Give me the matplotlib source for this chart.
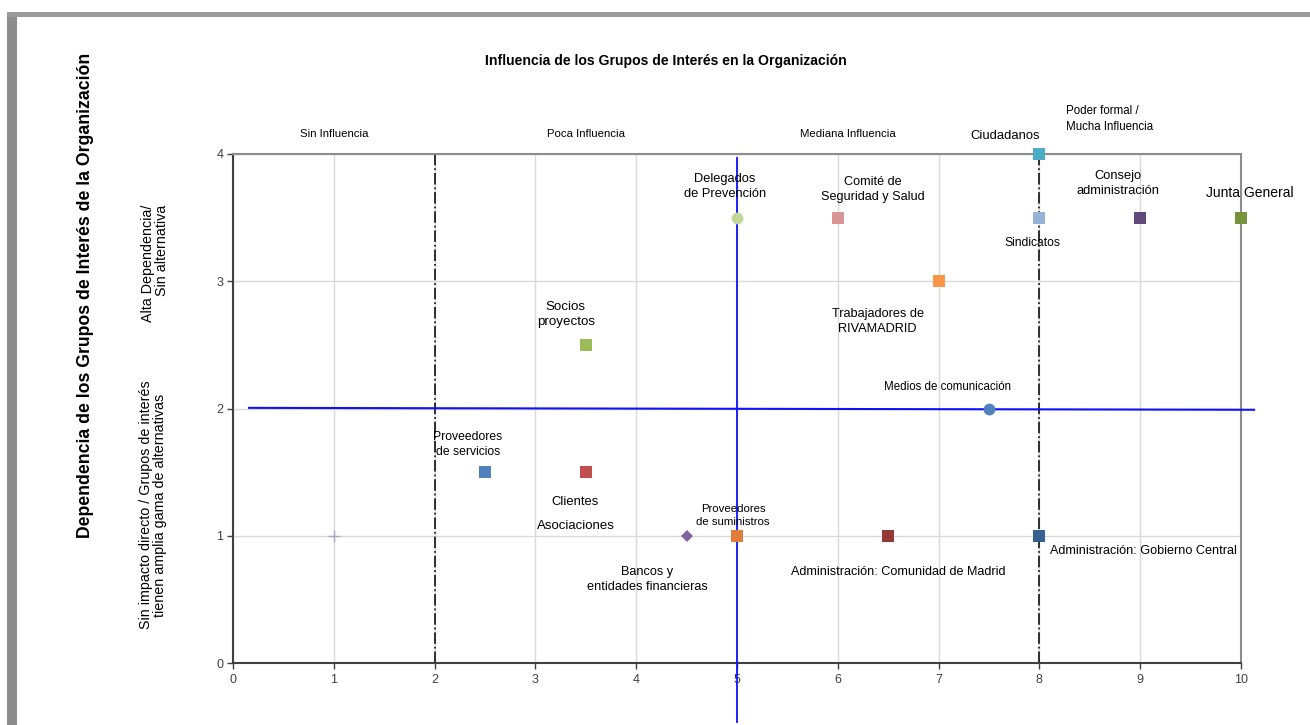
import matplotlib
matplotlib.use("Agg")
import matplotlib.pyplot as plt
from matplotlib.patches import Rectangle

# ---------------- data ----------------
names = ["Delegados de Prevención", "Comité de Seguridad y Salud", "Ciudadanos", "Sindicatos",
         "Consejo administración", "Junta General", "Trabajadores RIVAMADRID", "Socios proyectos",
         "Medios de comunicación", "Proveedores de servicios", "Clientes", "Asociaciones",
         "Proveedores de suministros", "Administración: Comunidad de Madrid",
         "Administración: Gobierno Central", "Bancos y entidades financieras"]
influence = [5, 6, 8, 8, 9, 10, 7, 3.5, 7.5, 2.5, 3.5, 4.5, 5, 6.5, 8, 1]
dependence = [3.5, 3.5, 4, 3.5, 3.5, 3.5, 3, 2.5, 2, 1.5, 1.5, 1, 1, 1, 1, 1]
labels = ["Delegados\nde Prevención", "Comité de\nSeguridad y Salud", "Ciudadanos", "Sindicatos",
          "Consejo\nadministración", "Junta General", "Trabajadores de\nRIVAMADRID", "Socios\nproyectos",
          "Medios de comunicación", "Proveedores\nde servicios", "Clientes", "Asociaciones",
          "Proveedores\nde suministros", "Administración: Comunidad de Madrid",
          "Administración: Gobierno Central", None]
markers = ["o", "s", "s", "s", "s", "s", "s", "s", "o", "s", "s", "D", "s", "s", "s", "+"]
colors = ["#c3d69b", "#d99694", "#4bacc6", "#95b3d7", "#604a7b", "#77933c", "#f79646", "#9bbb59",
          "#4f81bd", "#4f81bd", "#c0504d", "#8064a2", "#e07b39", "#953735", "#376092", "#b3a2c7"]

region_labels = ["Sin Influencia", "Poca Influencia", "Mediana Influencia", "Poder formal /\nMucha Influencia"]
region_x = [1, 3.5, 6.1, 8.26]
x_ticks = [0, 1, 2, 3, 4, 5, 6, 7, 8, 9, 10]
y_ticks = [0, 1, 2, 3, 4]

# label placement (offsets in pixels from the mark) and sizes: styling only
label_offsets = [(-12, 31), (35, 28), (-34, 18), (-7, -25), (-22, 34), (9, 25), (-61, -40), (-20, 30),
                 (-42, 22), (-17, 28), (-11, -30), (-111, 10), (-4, 20), (10, -36), (11, -15), (0, 0)]
label_ha = ["center"] * 14 + ["left", "center"]
label_size = [9.3, 9.1, 9.4, 8.7, 9.3, 10, 9.2, 9.6, 8.3, 8.7, 9.4, 9.5, 8.2, 9.1, 9.1, 9.2]

fam = ["Liberation Sans", "DejaVu Sans"]
plt.rcParams["font.family"] = fam

W, H = 1310, 725
fig = plt.figure(figsize=(W / 100, H / 100), dpi=100)
fig.patch.set_facecolor("white")

# frame shadow (top and left)
fig.add_artist(Rectangle((7 / W, 0), 10 / W, (H - 12) / H, transform=fig.transFigure,
                         facecolor="#8c8c8c", edgecolor="none", zorder=-5))
fig.add_artist(Rectangle((7 / W, (H - 17) / H), (W - 7) / W, 5 / H, transform=fig.transFigure,
                         facecolor="#9a9a9a", edgecolor="none", zorder=-5))
fig.add_artist(Rectangle((17 / W, 0), (W - 17) / W, (H - 17) / H, transform=fig.transFigure,
                         facecolor="white", edgecolor="none", zorder=-4))

ax = fig.add_axes([233 / W, 62 / H, 1008 / W, 509 / H])
ax.set_facecolor("none")
ax.set_xlim(0, 10)
ax.set_ylim(0, 4)
ax.set_xticks(x_ticks)
ax.set_yticks(y_ticks)
ax.grid(True, color="#d9d9d9", linewidth=1, zorder=0)
for s in ["left", "bottom"]:
    ax.spines[s].set_color("#404040")
    ax.spines[s].set_linewidth(1.5)
for s in ["top", "right"]:
    ax.spines[s].set_color("#8c8c8c")
    ax.spines[s].set_linewidth(1.5)
ax.tick_params(axis="both", colors="#404040", labelcolor="#404040", labelsize=9, length=4, width=1)
ax.tick_params(axis="x", pad=4)
ax.tick_params(axis="y", pad=3)

# reference lines
ax.plot([2, 2], [0, 4], color="#202020", linestyle="-.", linewidth=1.3, zorder=2)
ax.plot([8, 8], [0, 4], color="#202020", linestyle="-.", linewidth=1.3, zorder=2)
ax.plot([5, 5], [-0.46, 3.97], color="#1010ff", linewidth=1.3, zorder=3, clip_on=False)
ax.plot([0.16, 10.13], [2.005, 1.99], color="#1010ff", linewidth=1.5, zorder=3, clip_on=False)

# marks
for x, y, m, c in zip(influence, dependence, markers, colors):
    if m == "+":
        ax.plot(x, y, marker=m, color=c, markersize=9, markeredgewidth=1, zorder=5, clip_on=False)
    elif m == "D":
        ax.plot(x, y, marker=m, color=c, markersize=6.5, markeredgewidth=0, zorder=5, clip_on=False)
    elif m == "o":
        ax.plot(x, y, marker=m, color=c, markersize=8.5, markeredgewidth=0, zorder=5, clip_on=False)
    else:
        ax.plot(x, y, marker=m, color=c, markersize=8, markeredgewidth=0, zorder=5, clip_on=False)

# data labels
for i, lab in enumerate(labels):
    if lab is None:
        continue
    ax.annotate(lab, (influence[i], dependence[i]), xytext=label_offsets[i], textcoords="offset pixels",
                ha=label_ha[i], va="center", fontsize=label_size[i], color="#000000",
                linespacing=1.35, zorder=6, annotation_clip=False)

ax.annotate("Bancos y\nentidades financieras", (influence[12], dependence[12]), xytext=(-90, -44),
            textcoords="offset pixels", ha="center", va="center", fontsize=label_size[15], linespacing=1.35,
            annotation_clip=False)

# region labels above axes
for lab, rx in zip(region_labels, region_x):
    if "\n" in lab:
        ax.text(rx, 4.275, lab, ha="left", va="center", fontsize=8.3, linespacing=1.45, clip_on=False)
    else:
        ax.text(rx, 4.157, lab, ha="center", va="center", fontsize=8.2, clip_on=False)

# titles
fig.text(666 / W, 1 - 61 / H, "Influencia de los Grupos de Interés en la Organización",
         ha="center", va="center", fontsize=10.05, fontweight="bold")
fig.text(86 / W, 1 - 295 / H, "Dependencia de los Grupos de Interés de la Organización",
         ha="center", va="center", rotation=90, fontsize=12.7, fontweight="bold")
fig.text(155 / W, 1 - 263 / H, "Alta Dependencia/\nSin alternativa", ha="center", va="center",
         rotation=90, fontsize=10.3, multialignment="right", linespacing=1.0)
fig.text(153 / W, 1 - 505 / H, "Sin impacto directo / Grupos de interés\ntienen amplia gama de alternativas",
         ha="center", va="center", rotation=90, fontsize=10.3, linespacing=1.0)

fig.savefig("out.png", dpi=100, facecolor="white")
